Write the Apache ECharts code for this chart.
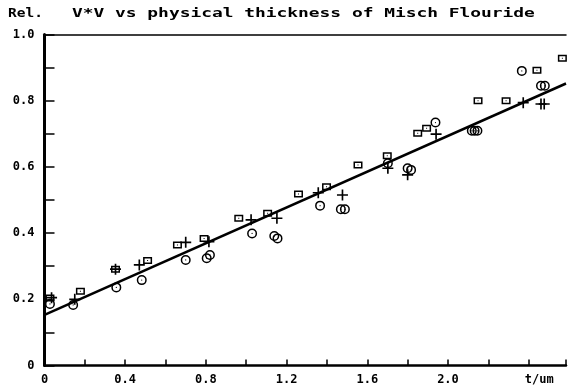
<!DOCTYPE html>
<html><head><meta charset="utf-8">
<script src="https://cdn.jsdelivr.net/npm/echarts@6/dist/echarts.min.js"></script>
<style>html,body{margin:0;padding:0;background:#fff}#c{width:569px;height:391px}</style>
</head><body><div id="c"></div>
<script>
// ---- data ----
const titleText = 'V*V vs physical thickness of Misch Flouride';
const yName = 'Rel.';
const xLabels = ['0','','0.4','','0.8','','1.2','','1.6','','2.0','','t/um'];
const yLabels = ['0','','0.2','','0.4','','0.6','','0.8','','1.0'];

const squareT = [0.027,0.178,0.352,0.511,0.659,0.791,0.963,1.106,1.259,1.398,1.554,1.699,1.850,1.894,2.149,2.288,2.441,2.567];
const squareV = [0.204,0.224,0.291,0.317,0.364,0.384,0.445,0.460,0.518,0.540,0.606,0.634,0.702,0.717,0.800,0.800,0.892,0.928];

const plusT = [0.035,0.150,0.352,0.470,0.700,0.815,1.024,1.152,1.357,1.477,1.702,1.800,1.941,2.373,2.461,2.477];
const plusV = [0.205,0.200,0.291,0.304,0.372,0.374,0.440,0.445,0.522,0.515,0.596,0.576,0.699,0.794,0.790,0.790];

const circleT = [0.027,0.142,0.356,0.482,0.700,0.804,0.820,1.029,1.139,1.155,1.366,1.469,1.489,1.702,1.800,1.817,1.938,2.118,2.132,2.146,2.366,2.461,2.480];
const circleV = [0.186,0.183,0.236,0.258,0.319,0.324,0.334,0.399,0.391,0.384,0.483,0.472,0.472,0.611,0.596,0.591,0.734,0.709,0.709,0.709,0.890,0.845,0.845];

const fitT = [0, 2.585];
const fitV = [0.153, 0.852];

// ---- rendering ----
const zip = (a, b) => a.map((v, i) => [v, b[i]]);
const FONT = 'DejaVu Sans Mono';
const SQ = 'path://M0,0 H18 V14 H0 Z M3,3 V11 H15 V3 Z M8,6 H10 V8 H8 Z';
const CIRC = 'path://M0,10 A10,10 0 1,1 20,10 A10,10 0 1,1 0,10 Z M3,10 A7,7 0 1,0 17,10 A7,7 0 1,0 3,10 Z M8.8,10 A1.2,1.2 0 1,1 11.2,10 A1.2,1.2 0 1,1 8.8,10 Z';
const PLUS = 'path://M8.5,0 H11.5 V8.5 H20 V11.5 H11.5 V20 H8.5 V11.5 H0 V8.5 H8.5 Z';

const chart = echarts.init(document.getElementById('c'), null, {renderer: 'canvas'});
const labelStyle = {color: '#000', fontFamily: FONT, fontSize: 12, fontWeight: 'bold'};

chart.setOption({
  animation: false,
  backgroundColor: '#fff',
  grid: {left: 44.5, right: 0, top: 34.5, bottom: 25.5},
  graphic: [
    {type: 'text', x: 8, y: 8.3, scaleX: 1.21, style: {text: yName, fill: '#000', font: 'bold 12px "DejaVu Sans Mono"', verticalAlign: 'top'}},
    {type: 'text', x: 72, y: 8.3, scaleX: 1.49, style: {text: titleText, fill: '#000', font: 'bold 12px "DejaVu Sans Mono"', verticalAlign: 'top'}}
  ],
  xAxis: [{
    type: 'value', min: 0, max: 2.585, interval: 0.2, position: 'bottom',
    axisLine: {show: true, onZero: false, lineStyle: {color: '#000', width: 2.5}},
    axisTick: {show: true, inside: true, length: 6, lineStyle: {color: '#000', width: 1.5}},
    splitLine: {show: false},
    axisLabel: Object.assign({
      margin: 8,
      formatter: function (v) {
        const i = Math.round(v / 0.2);
        if (Math.abs(v - i * 0.2) > 1e-6) return '';
        const s = xLabels[i] || '';
        return s === 't/um' ? '{u|' + s + '}' : s;
      },
      rich: {u: Object.assign({padding: [0, 0, 0, 21]}, labelStyle)}
    }, labelStyle)
  }, {
    type: 'value', min: 0, max: 2.585, position: 'top',
    axisLine: {show: true, onZero: false, lineStyle: {color: '#000', width: 1.5}},
    axisTick: {show: false}, axisLabel: {show: false}, splitLine: {show: false}
  }],
  yAxis: {
    type: 'value', min: 0, max: 1, interval: 0.1,
    axisLine: {show: true, onZero: false, lineStyle: {color: '#000', width: 3}},
    axisTick: {show: true, inside: true, length: 10, lineStyle: {color: '#000', width: 1.5}},
    splitLine: {show: false},
    axisLabel: Object.assign({
      margin: 10,
      formatter: function (v) {
        const i = Math.round(v / 0.1);
        if (Math.abs(v - i * 0.1) > 1e-6) return '';
        return yLabels[i] || '';
      }
    }, labelStyle)
  },
  series: [
    {type: 'line', data: zip(fitT, fitV), symbol: 'none', silent: true,
     lineStyle: {color: '#000', width: 2.5}, z: 1},
    {type: 'scatter', data: zip(squareT, squareV), symbol: SQ, symbolSize: [9, 7],
     itemStyle: {color: '#000', opacity: 1}, z: 2},
    {type: 'scatter', data: zip(plusT, plusV), symbol: PLUS, symbolSize: 11,
     itemStyle: {color: '#000', opacity: 1}, z: 2},
    {type: 'scatter', data: zip(circleT, circleV), symbol: CIRC, symbolSize: 10,
     itemStyle: {color: '#000', opacity: 1}, z: 2}
  ]
});
</script>
</body></html>
